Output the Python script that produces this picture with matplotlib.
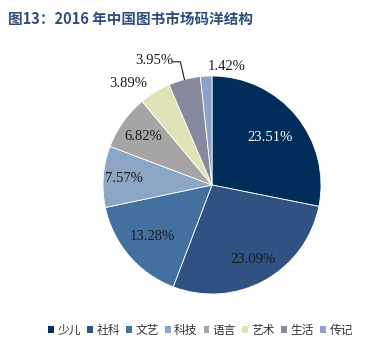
import numpy as np
import matplotlib
matplotlib.use("Agg")
import matplotlib.pyplot as plt
from matplotlib.patches import Patch

# 2016 中国图书市场码洋结构 (%)
categories = ["少儿", "社科", "文艺", "科技", "语言", "艺术", "生活", "传记"]
shares = [23.51, 23.09, 13.28, 7.57, 6.82, 3.89, 3.95, 1.42]
colors = ["#002D5A", "#2F5282", "#44709F", "#8BA5C5", "#A5A5A5",
          "#E2E2B8", "#868A9C", "#8FA3C6"]

plt.rcParams['font.family'] = ['Noto Sans CJK SC', 'DejaVu Sans']

fig = plt.figure(figsize=(3.68, 3.47), dpi=100)
ax = fig.add_axes([0.1318, -0.0043, 0.8886, 0.9424])

wedges, texts = ax.pie(
    shares, colors=colors, startangle=90, counterclock=False,
    wedgeprops=dict(edgecolor="white", linewidth=0.6))
ax.set_xlim(-1.5, 1.5)
ax.set_ylim(-1.5, 1.5)
ax.axis("off")

lab_font = dict(fontsize=10.5, family="Liberation Serif", ha="center", va="center")

# label radius per wedge (fraction of pie radius)
label_r = [0.69, 0.78, 0.72, 0.81, 0.77]
for w, val, r in zip(wedges, shares, label_r):
    mid = np.deg2rad((w.theta1 + w.theta2) / 2)
    ax.text(r * np.cos(mid), r * np.sin(mid), f"{val:.2f}%",
            color="white" if val == shares[0] else "#1a1a1a", **lab_font)

# small slices, labelled outside
mids = [np.deg2rad((w.theta1 + w.theta2) / 2) for w in wedges]
ax.text(-0.77, 0.93, f"{shares[5]:.2f}%", color="#1a1a1a", **lab_font)
ax.text(-0.53, 1.14, f"{shares[6]:.2f}%", color="#1a1a1a", **lab_font)
ax.text(0.13, 1.09, f"{shares[7]:.2f}%", color="#1a1a1a", **lab_font)
m = mids[6]
ax.plot([-0.36, -0.29, np.cos(m)], [1.13, 1.13, np.sin(m)],
        color="#1a1a1a", linewidth=0.8)

fig.text(0.022, 0.942, "图13：2016 年中国图书市场码洋结构", fontsize=10.5,
         fontweight="bold", color="#2E4C7C", ha="left", va="center")

handles = [Patch(facecolor=c, edgecolor="none") for c in colors]
fig.legend(handles, categories, loc="center", bbox_to_anchor=(0.545, 0.048),
           ncol=8, frameon=False, fontsize=8.5, handlelength=0.5, handleheight=0.5,
           handletextpad=0.3, columnspacing=0.5, labelcolor="#333333")

fig.savefig("out.png", dpi=100)
